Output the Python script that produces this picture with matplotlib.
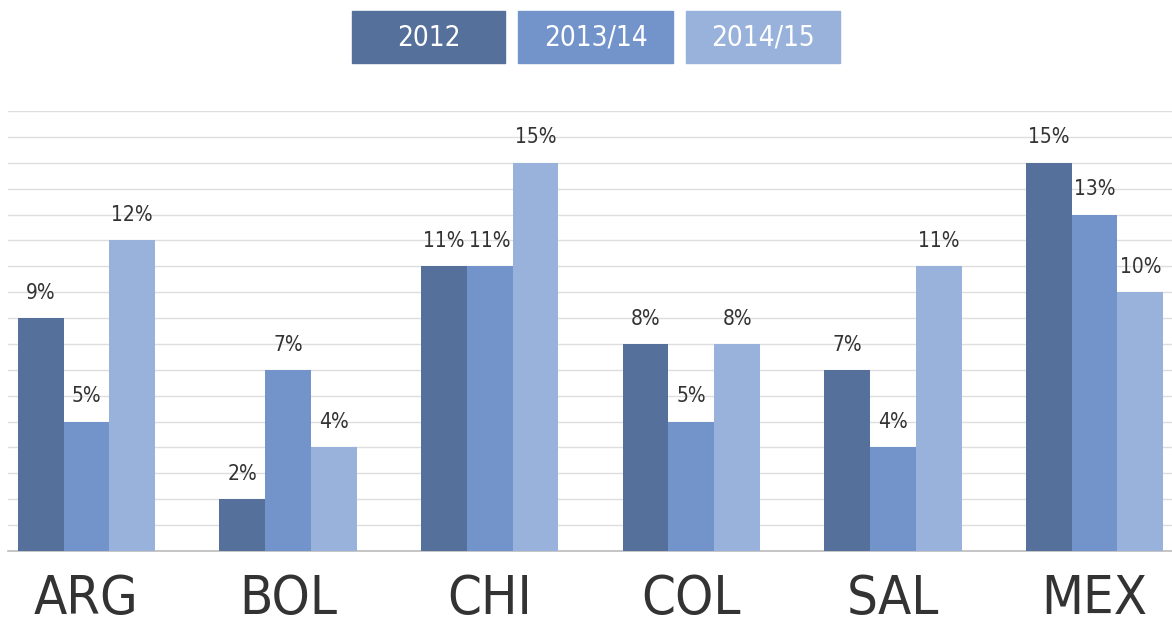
import numpy as np
import matplotlib.pyplot as plt
from matplotlib.patches import Rectangle

countries = ["ARG", "BOL", "CHI", "COL", "SAL", "MEX"]
series_names = ["2012", "2013/14", "2014/15"]
v2012 = [9, 2, 11, 8, 7, 15]
v2013 = [5, 7, 11, 5, 4, 13]
v2014 = [12, 4, 15, 8, 11, 10]
values = [v2012, v2013, v2014]
colors = ["#54709b", "#7294cb", "#98b2db"]

plt.rcParams['font.family'] = ['DejaVu Sans']
plt.rcParams['font.stretch'] = 'condensed'
text_color = "#333333"

fig = plt.figure(figsize=(11.72, 6.34), dpi=100)
ax = fig.add_axes([8 / 1172, 1 - 551 / 634, 1 - 8 / 1172, (551 - 111) / 634])

x = np.arange(len(countries))
w = 0.227
for i, (vals, c) in enumerate(zip(values, colors)):
    pos = x + (i - 1) * w
    bars = ax.bar(pos, vals, width=w, color=c, zorder=3)
    for b, v in zip(bars, vals):
        ax.annotate(f"{v}%", (b.get_x() + b.get_width() / 2, v),
                    xytext=(0, 11), textcoords="offset points",
                    ha="center", va="bottom", fontsize=15, color=text_color)

ax.set_xlim(-0.389, 5.384)
ax.set_ylim(0, 17)
ax.set_yticks(range(1, 18))
ax.yaxis.grid(True, color="#dedede", linewidth=1, zorder=0)
ax.tick_params(axis="y", left=False, labelleft=False)
ax.set_xticks(x)
ax.set_xticklabels(countries, fontsize=39, color=text_color)
ax.tick_params(axis="x", bottom=False, pad=12)
for s in ["top", "right", "left"]:
    ax.spines[s].set_visible(False)
ax.spines["bottom"].set_color("#bbbbbb")
ax.spines["bottom"].set_linewidth(1.2)

# legend boxes at the top
boxes = [(352, 505), (518, 673), (686, 840)]
for (x0, x1), name, c in zip(boxes, series_names, colors):
    fig.patches.append(Rectangle((x0 / 1172, 1 - 63 / 634), (x1 - x0) / 1172, 52 / 634,
                                 transform=fig.transFigure, color=c))
    fig.text((x0 + x1) / 2 / 1172, 1 - 38 / 634, name, ha="center", va="center",
             fontsize=20, color="white")

fig.savefig("out.png", dpi=100)
